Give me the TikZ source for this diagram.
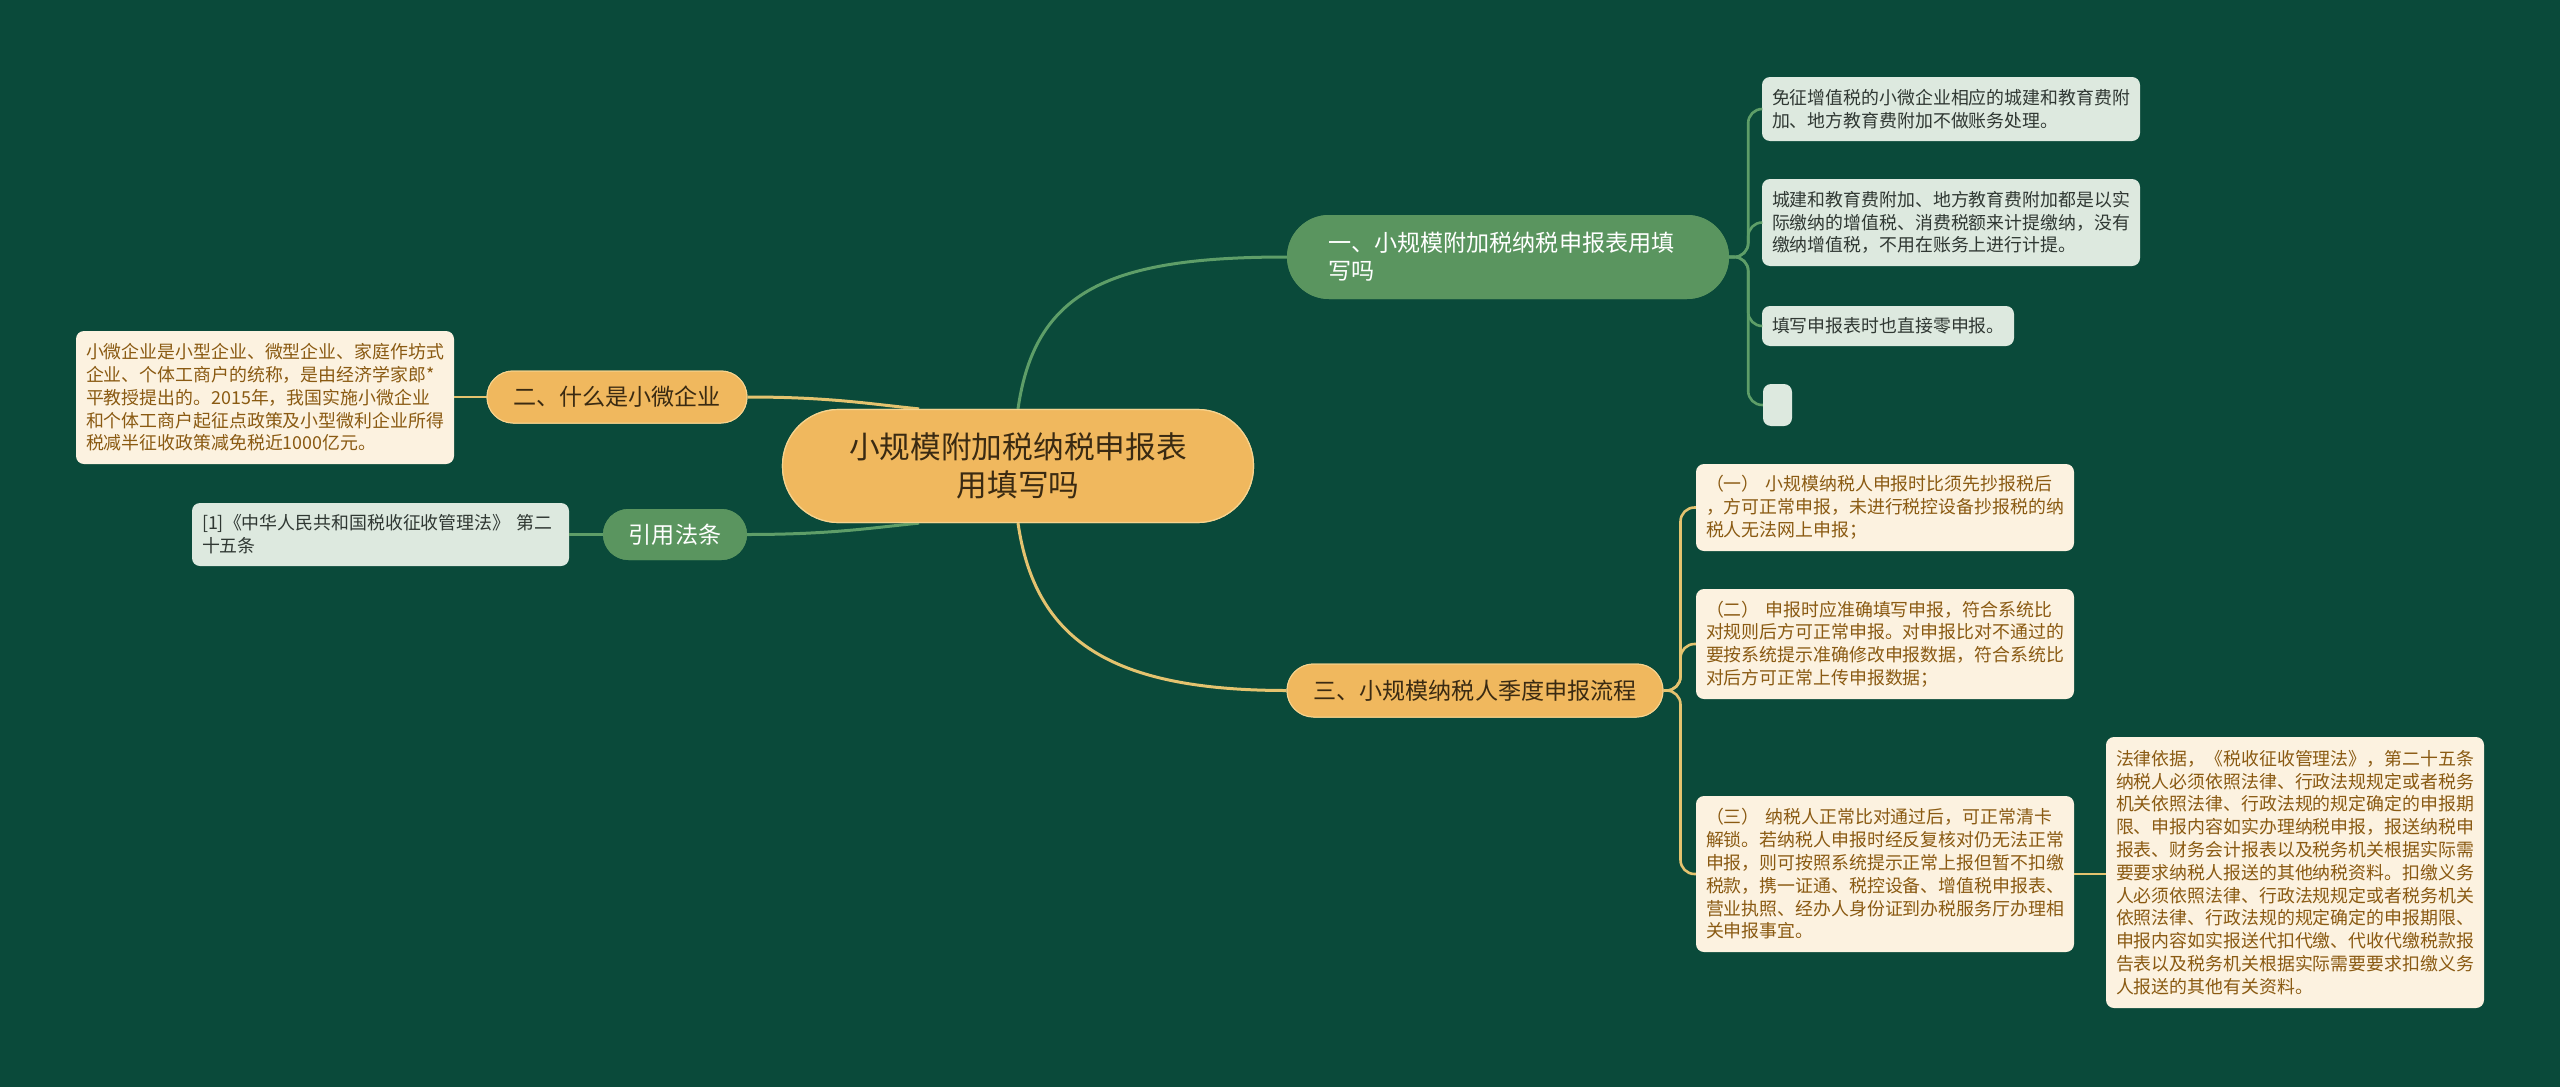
\documentclass[tikz,border=0pt]{standalone}
\usepackage{fontspec}
\setmainfont{Noto Sans CJK SC}
\definecolor{bgc}{HTML}{0A4A3A}
\definecolor{gnode}{HTML}{5A955F}
\definecolor{onode}{HTML}{F0B85E}
\definecolor{oborder}{HTML}{F6D38E}
\definecolor{leafg}{HTML}{DDE9DF}
\definecolor{leafc}{HTML}{FCF2E0}
\definecolor{txtbrown}{HTML}{8A5A12}
\definecolor{txtdark}{HTML}{3A2A12}
\definecolor{txtgray}{HTML}{303833}
\definecolor{gline}{HTML}{5E9E68}
\definecolor{yline}{HTML}{E4C36F}
\tikzset{
  centerbox/.style={fill=onode, draw=oborder, line width=1.2pt, rounded corners=56pt,
    minimum width=471pt, minimum height=113pt, align=center, text=txtdark, inner sep=0pt,
    font=\fontsize{30.7}{38}\selectfont},
  obranch/.style={fill=onode, draw=oborder, line width=1pt, text=txtdark, inner sep=0pt,
    align=center, font=\fontsize{23.1}{28}\selectfont},
  gbranch/.style={fill=gnode, text=white, inner sep=0pt,
    font=\fontsize{23.1}{28}\selectfont},
  leafgreen/.style={fill=leafg, rounded corners=8pt, text=txtgray, align=left,
    inner xsep=10pt, inner ysep=0pt, font=\fontsize{17.9}{22.8}\selectfont},
  leafcream/.style={fill=leafc, rounded corners=8pt, text=txtbrown, align=left,
    inner xsep=10pt, inner ysep=0pt, font=\fontsize{17.9}{22.8}\selectfont},
  gconn/.style={draw=gline, line width=3pt},
  yconn/.style={draw=yline, line width=3pt},
}
\begin{document}
\begin{tikzpicture}[x=1pt,y=-1pt]
\useasboundingbox (0,0) rectangle (2560,1087);
\fill[bgc] (0,0) rectangle (2560,1087);

% nodes (placed first, connectors drawn behind via layers of order below)
\path
  node[centerbox] (c) at (1018,466) {小规模附加税纳税申报表\\用填写吗}
  node[gbranch, rounded corners=42pt, minimum height=84pt, text width=360pt, inner xsep=41pt, align=left] (b1) at (1508,257) {一、小规模附加税纳税申报表用填\\写吗}
  node[obranch, rounded corners=26.5pt, minimum width=376pt, minimum height=53pt] (b3) at (1475,690.5) {三、小规模纳税人季度申报流程}
  node[obranch, rounded corners=26pt, minimum width=260pt, minimum height=52pt] (b2) at (617,397) {二、什么是小微企业}
  node[gbranch, rounded corners=25.5pt, minimum width=144pt, minimum height=51pt] (b4) at (675,534.5) {引用法条};

% connectors (drawn on background by redrawing nodes afterwards)
\draw[gconn] (c.north) .. controls (1035,290) and (1110,257) .. (b1.west);
\draw[yconn] (c.south) .. controls (1035,640) and (1110,690.5) .. (b3.west);
\draw[yconn] (b2.east) .. controls (830,397) and (870,404) .. (c.150);
\draw[gconn] (b4.east) .. controls (830,534.5) and (870,528) .. (c.210);

% leaves
\path
  node[leafgreen, text width=358pt, minimum height=64pt] (l1) at (1951,109) {免征增值税的小微企业相应的城建和教育费附\\加、地方教育费附加不做账务处理。}
  node[leafgreen, text width=358pt, minimum height=87pt] (l2) at (1951,222.5) {城建和教育费附加、地方教育费附加都是以实\\际缴纳的增值税、消费税额来计提缴纳，没有\\缴纳增值税，不用在账务上进行计提。}
  node[leafgreen, text width=232pt, minimum height=40pt] (l3) at (1888,326) {填写申报表时也直接零申报。}
  node[leafgreen, inner xsep=0pt, minimum width=29pt, minimum height=42pt] (l4) at (1777.5,405) {}
  node[leafcream, text width=358pt, minimum height=133pt] (lw) at (265,397.5) {小微企业是小型企业、微型企业、家庭作坊式\\企业、个体工商户的统称，是由经济学家郎*\\平教授提出的。2015年，我国实施小微企业\\和个体工商户起征点政策及小型微利企业所得\\税减半征收政策减免税近1000亿元。}
  node[leafgreen, text width=357pt, minimum height=63pt] (lr) at (380.5,534.5) {[1]《中华人民共和国税收征收管理法》 第二\\十五条}
  node[leafcream, text width=358pt, minimum height=87pt] (m1) at (1885,507.5) {（一） 小规模纳税人申报时比须先抄报税后\\，方可正常申报，未进行税控设备抄报税的纳\\税人无法网上申报；}
  node[leafcream, text width=358pt, minimum height=110pt] (m2) at (1885,644) {（二） 申报时应准确填写申报，符合系统比\\对规则后方可正常申报。对申报比对不通过的\\要按系统提示准确修改申报数据，符合系统比\\对后方可正常上传申报数据；}
  node[leafcream, text width=358pt, minimum height=156pt] (m3) at (1885,874) {（三） 纳税人正常比对通过后，可正常清卡\\解锁。若纳税人申报时经反复核对仍无法正常\\申报，则可按照系统提示正常上报但暂不扣缴\\税款，携一证通、税控设备、增值税申报表、\\营业执照、经办人身份证到办税服务厅办理相\\关申报事宜。}
  node[leafcream, text width=358pt, minimum height=271pt] (lg) at (2295,872.5) {法律依据，《税收征收管理法》，第二十五条\\纳税人必须依照法律、行政法规规定或者税务\\机关依照法律、行政法规的规定确定的申报期\\限、申报内容如实办理纳税申报，报送纳税申\\报表、财务会计报表以及税务机关根据实际需\\要要求纳税人报送的其他纳税资料。扣缴义务\\人必须依照法律、行政法规规定或者税务机关\\依照法律、行政法规的规定确定的申报期限、\\申报内容如实报送代扣代缴、代收代缴税款报\\告表以及税务机关根据实际需要要求扣缴义务\\人报送的其他有关资料。};

% leaf connectors
\foreach \t in {l1,l2,l3,l4}
  \draw[gconn, line width=2.6pt, rounded corners=14pt] (b1.east) -- ++(19,0) |- (\t.west);
\foreach \t in {m1,m2,m3}
  \draw[yconn, line width=2.6pt, rounded corners=14pt] (b3.east) -- ++(17,0) |- (\t.west);
\draw[yconn, line width=2.6pt] (m3.east) -- (m3.east -| lg.west);
\draw[yconn, line width=2.6pt] (b2.west) -- (b2.west -| lw.east);
\draw[gconn, line width=2.6pt] (b4.west) -- (b4.west -| lr.east);

% redraw main nodes on top of connectors
\node[centerbox] at (c.center) {小规模附加税纳税申报表\\用填写吗};
\node[gbranch, rounded corners=42pt, minimum height=84pt, text width=360pt, inner xsep=41pt, align=left] at (b1.center) {一、小规模附加税纳税申报表用填\\写吗};
\node[obranch, rounded corners=26.5pt, minimum width=376pt, minimum height=53pt] at (b3.center) {三、小规模纳税人季度申报流程};
\node[obranch, rounded corners=26pt, minimum width=260pt, minimum height=52pt] at (b2.center) {二、什么是小微企业};
\node[gbranch, rounded corners=25.5pt, minimum width=144pt, minimum height=51pt] at (b4.center) {引用法条};
\end{tikzpicture}
\end{document}
